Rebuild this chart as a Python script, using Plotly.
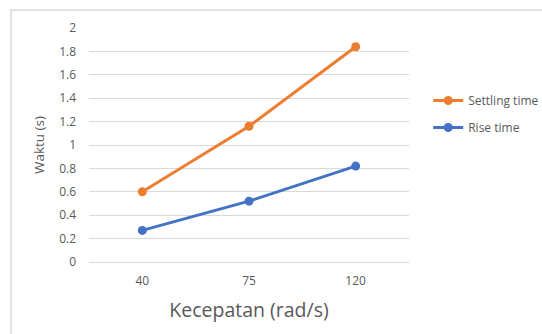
import plotly.graph_objects as go

categories = ["40", "75", "120"]
settling_time = [0.60, 1.16, 1.84]
rise_time = [0.27, 0.52, 0.82]
y_ticks = [0, 0.2, 0.4, 0.6, 0.8, 1, 1.2, 1.4, 1.6, 1.8, 2]
y_labels = ["0", "0.2", "0.4", "0.6", "0.8", "1", "1.2", "1.4", "1.6", "1.8", "2"]

FONT = "Open Sans, Noto Sans, sans-serif"
fig = go.Figure()
fig.add_trace(go.Scatter(x=categories, y=settling_time, name="Settling time",
                         mode="lines+markers", legendgroup="a",
                         line=dict(color="#ED7D31", width=3),
                         marker=dict(size=9, color="#ED7D31")))
fig.add_trace(go.Scatter(x=categories, y=rise_time, name="Rise time",
                         mode="lines+markers", legendgroup="b",
                         line=dict(color="#4472C4", width=3),
                         marker=dict(size=9, color="#4472C4")))

fig.update_layout(
    width=542, height=334,
    margin=dict(l=89, r=133, t=28, b=72, autoexpand=False),
    paper_bgcolor="white", plot_bgcolor="white",
    font=dict(family=FONT, color="#595959", size=12),
    showlegend=True,
    legend=dict(x=1.06, y=0.752, xanchor="left", yanchor="top",
                font=dict(size=12, color="#595959"),
                itemwidth=30, tracegroupgap=8, bgcolor="rgba(0,0,0,0)"),
    xaxis=dict(type="category", range=[-0.5, 2.5], showgrid=False,
               zeroline=False, showline=False, ticks="", automargin=False,
               ticklabelstandoff=10,
               title=dict(text="Kecepatan (rad/s)", font=dict(size=19.5, color="#595959"),
                          standoff=15)),
    yaxis=dict(range=[0, 2], tickvals=y_ticks, ticktext=y_labels,
               showgrid=True, gridcolor="#D9D9D9", gridwidth=1,
               zeroline=True, zerolinecolor="#D9D9D9", zerolinewidth=1,
               showline=False, ticks="", ticklabelstandoff=12, automargin=False,
               title=dict(text="Waktu (s)", font=dict(size=13.5, color="#595959"),
                          standoff=11)),
)

# chart border (top and left visible)
fig.add_shape(type="path", xref="paper", yref="paper",
              path="M -0.24375 -0.5 L -0.24375 1.0769 L 1.5 1.0769",
              line=dict(color="#D9D9D9", width=1.5))

fig.write_html("out.html", config={"displayModeBar": False},
               post_script="document.body.style.margin='0';document.body.style.overflow='hidden';")
